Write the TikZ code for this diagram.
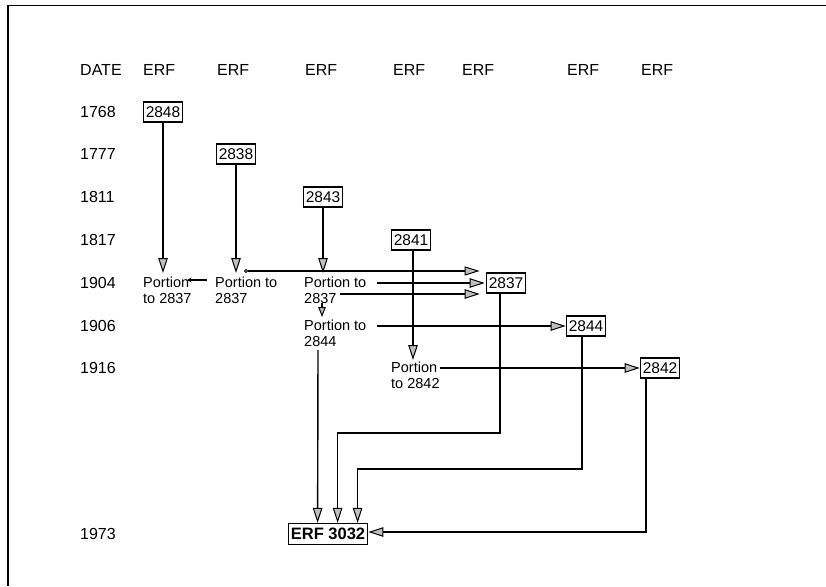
\documentclass[tikz,border=0pt]{standalone}
\usepackage{fontspec}
\setmainfont{Liberation Sans}
\usetikzlibrary{arrows.meta,calc}
\begin{document}
\begin{tikzpicture}[x=1pt,y=-1pt,
  lbl/.style={anchor=west,inner sep=0pt,text=black,font=\fontsize{16}{19}\selectfont},
  erfbox/.style={draw,line width=1.2pt,inner xsep=2.5pt,inner ysep=4.6pt,font=\fontsize{15.5}{18}\selectfont},
  bigbox/.style={draw,line width=1.3pt,inner xsep=2.6pt,inner ysep=4.6pt,font=\fontsize{16.5}{19}\selectfont\bfseries},
  portion/.style={anchor=north west,inner sep=0pt,align=left,font=\fontsize{14.5}{16}\selectfont},
  conn/.style={line width=1.4pt,-{Triangle[length=15pt,width=9.5pt,fill=gray!50,line width=1pt]}},
  small/.style={line width=1.4pt,-{Triangle[length=10pt,width=7.5pt,fill=gray!50,line width=1pt]}},
  tiny/.style={line width=1.4pt,-{Stealth[length=4.5pt,width=4.5pt]}}
]
\useasboundingbox (0,0) rectangle (826,586);
\draw[line width=1.6pt] (8,586) -- (8,5.5) -- (826,5.5);

% header
\node[lbl] (hdate) at (80,70) {DATE};
\node[lbl] (h1) at (143,70) {ERF};
\node[lbl] (h2) at (217,70) {ERF};
\node[lbl] (h3) at (305,70) {ERF};
\node[lbl] (h4) at (393,70) {ERF};
\node[lbl] (h5) at (462,70) {ERF};
\node[lbl] (h6) at (567,70) {ERF};
\node[lbl] (h7) at (641,70) {ERF};

% years
\node[lbl] (y1768) at (80,112) {1768};
\node[lbl] (y1777) at (80,154) {1777};
\node[lbl] (y1811) at (80,197) {1811};
\node[lbl] (y1817) at (80,240) {1817};
\node[lbl] (y1904) at (80,283) {1904};
\node[lbl] (y1906) at (80,326) {1906};
\node[lbl] (y1916) at (80,368) {1916};
\node[lbl] (y1973) at (80,534) {1973};

% boxes
\node[erfbox] (b2848) at (163,112) {2848};
\node[erfbox] (b2838) at (236,154) {2838};
\node[erfbox] (b2843) at (323,197) {2843};
\node[erfbox] (b2841) at (411,240) {2841};
\node[erfbox] (b2837) at (506,283) {2837};
\node[erfbox] (b2844) at (586,326) {2844};
\node[erfbox] (b2842) at (660,368) {2842};
\node[bigbox] (erf) at (328,534) {ERF 3032};

% portions
\node[portion] (p1) at (143,277) {Portion\\to 2837};
\node[portion] (p2) at (215,277) {Portion to\\2837};
\node[portion] (p3) at (304,277) {Portion to\\2837};
\node[portion] (p4) at (304,320) {Portion to\\2844};
\node[portion] (p5) at (391,362) {Portion\\to 2842};

% vertical arrows from boxes
\draw[conn] (b2848.south) -- ($(b2848.south |- p1.north)+(0,-4)$);
\draw[conn] (b2838.south) -- ($(b2838.south |- p2.north)+(0,-4)$);
\draw[conn] (b2843.south) -- ($(b2843.south |- p3.north)+(0,-4)$);
\draw[conn] ($(b2841.south)+(2,0)$) -- ($(b2841.south |- p5.north)+(2,-2)$);

% p2 -> p1
\draw[tiny] ($(p2.north west)+(-8,3)$) -- ($(p1.north west)+(44,3)$);
% p2 -> 2837
\draw[line width=1.4pt,{Circle[open,length=4pt,line width=1pt]}-{Triangle[length=15pt,width=9pt,fill=gray!50,line width=1pt]}]
  ($(p2.north west)+(29,-6)$) -- ($(b2837.west)+(-6,-12)$);
% p3 -> 2837 (two)
\draw[conn] ($(p3.north west)+(73,6)$) -- ($(b2837.west)+(-1,0)$);
\draw[conn] ($(p3.north west)+(36,17)$) -- ($(b2837.west)+(-6,11)$);
% p3 -> p4
\draw[small] ($(p3.north west)+(18,26)$) -- ($(p4.north west)+(18,-3)$);
% p4 -> 2844
\draw[conn] ($(p4.north west)+(73,6)$) -- (b2844.west);
% p5 -> 2842
\draw[conn] ($(p5.north west)+(49,6)$) -- (b2842.west);

% to ERF 3032
\draw[conn] ($(p4.south west)+(14,3)$) -- ($(erf.north west)+(30,0)$);
\draw[conn] ($(b2837.south)+(-6,0)$) |- ($(erf.north west)+(50,-90)$) -- ($(erf.north west)+(50,0)$);
\draw[conn] ($(b2844.south)+(-4,0)$) |- ($(erf.north west)+(70,-54)$) -- ($(erf.north west)+(70,0)$);
\draw[conn] ($(b2842.south)+(-14,0)$) |- ($(erf.east)+(0,-2)$);
\end{tikzpicture}
\end{document}
